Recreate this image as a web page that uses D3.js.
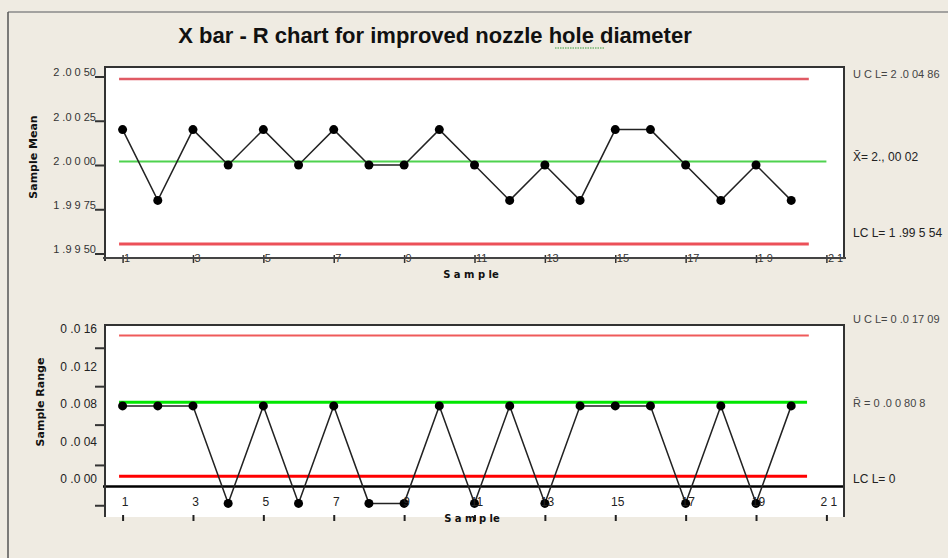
<!DOCTYPE html>
<html>
<head>
<meta charset="utf-8">
<script src="https://cdn.jsdelivr.net/npm/d3@7"></script>
<style>
  body { margin: 0; background: #efebe2; }
  svg { display: block; }
</style>
</head>
<body>
<div id="chart"></div>
<script>
// samples and values
const samples = [1, 2, 3, 4, 5, 6, 7, 8, 9, 10, 11, 12, 13, 14, 15, 16, 17, 18, 19, 20];
const sampleMeans = [2.002, 1.998, 2.002, 2.000, 2.002, 2.000, 2.002, 2.000, 2.000, 2.002,
                     2.000, 1.998, 2.000, 1.998, 2.002, 2.002, 2.000, 1.998, 2.000, 1.998];
const sampleRanges = [0.0078, 0.0078, 0.0078, -0.0026, 0.0078, -0.0026, 0.0078, -0.0026, -0.0026, 0.0078,
                      -0.0026, 0.0078, -0.0026, 0.0078, 0.0078, 0.0078, -0.0026, 0.0078, -0.0026, 0.0078];

const sampleTicks = [1, 3, 5, 7, 9, 11, 13, 15, 17, 19, 21];
const topSampleLabels = ["1", "3", "5", "7", "9", "11", "13", "15", "17", "1 9", "2 1"];
const bottomSampleLabels = ["1", "3", "5", "7", "9", "11", "13", "15", "17", "19", "2 1"];

const meanTicks = [2.005, 2.0025, 2.000, 1.9975, 1.995];
const meanTickLabels = ["2 .0 0 50", "2 .0 0 25", "2 .0 0 00", "1 .9 9 75", "1 .9 9 50"];

const rangeTicks = [0.016, 0.012, 0.008, 0.004, 0];
const rangeTickLabels = ["0 .0 16", "0 .0 12", "0 .0 08", "0 .0 04", "0 .0 00"];
const rangeTickMarks = [0.014, 0.0099, 0.0058, 0.0015, -0.0028];

const meanLimits = [2.00486, 2.0002, 1.99554];
const meanLimitLabels = ["U C L= 2 .0 04 86", "X\u0304= 2., 00 02", "LC L= 1 .99 5 54"];

const rangeLimits = [0.01709, 0.00808, 0];
const rangeLimitLabels = ["U C L= 0 .0 17 09", "R\u0304 = 0 .0 0 80 8", "LC L= 0"];
// where the range limit lines actually sit against the axis
const rangeLinesDrawn = [0.0153, 0.0082, 0.0003];
const rangeBaseline = -0.0008;

const W = 948, H = 558;
const left = 105, right = 844;
const top1 = 67, bottom1 = 258;
const top2 = 325, bottom2 = 517;
const tickFont = "'Liberation Sans', Arial, sans-serif";
const boldFont = "'DejaVu Sans', Verdana, sans-serif";

const svg = d3.select("#chart").append("svg")
    .attr("width", W)
    .attr("height", H);

svg.append("rect").attr("width", W).attr("height", H).attr("fill", "#efebe2");

// outer frame
svg.append("line").attr("x1", 8).attr("x2", W).attr("y1", 12).attr("y2", 12)
    .attr("stroke", "#8a8a8a").attr("stroke-width", 1.5);
svg.append("line").attr("x1", 8).attr("x2", 8).attr("y1", 12).attr("y2", H)
    .attr("stroke", "#555").attr("stroke-width", 1.5);

// title
svg.append("text")
    .attr("x", 435)
    .attr("y", 43)
    .attr("text-anchor", "middle")
    .style("font-family", "'Liberation Sans', Arial, sans-serif")
    .style("font-weight", "bold")
    .style("font-size", "22px")
    .attr("fill", "#111")
    .text("X bar - R chart for improved nozzle hole diameter");
svg.append("line").attr("x1", 555).attr("x2", 604).attr("y1", 48).attr("y2", 48)
    .attr("stroke", "#3a9a3a").attr("stroke-width", 1.2).attr("stroke-dasharray", "1.5,1");

const x = d3.scaleLinear().domain([0.5, 21.5]).range([left, right]);

// ---------- X bar panel ----------
const yM = d3.scaleLinear().domain([1.995, 2.005]).range([253.5, 76.5]);

svg.append("rect")
    .attr("x", left).attr("y", top1)
    .attr("width", right - left).attr("height", bottom1 - top1)
    .attr("fill", "#fff");

const gM = svg.append("g");

// limit lines
gM.append("line")
    .attr("x1", x(0.9)).attr("x2", x(20.5))
    .attr("y1", yM(meanLimits[0])).attr("y2", yM(meanLimits[0]))
    .attr("stroke", "#e05a64").attr("stroke-width", 2.5);
gM.append("line")
    .attr("x1", x(0.9)).attr("x2", x(21))
    .attr("y1", yM(meanLimits[1])).attr("y2", yM(meanLimits[1]))
    .attr("stroke", "#4fd24f").attr("stroke-width", 2);
gM.append("line")
    .attr("x1", x(0.9)).attr("x2", x(20.5))
    .attr("y1", yM(meanLimits[2])).attr("y2", yM(meanLimits[2]))
    .attr("stroke", "#ec5058").attr("stroke-width", 3);

// series
gM.append("path")
    .datum(samples)
    .attr("fill", "none")
    .attr("stroke", "#222")
    .attr("stroke-width", 1.5)
    .attr("d", d3.line().x(d => x(d)).y((d, i) => yM(sampleMeans[i])));
gM.selectAll("circle")
    .data(samples)
    .join("circle")
    .attr("cx", d => x(d))
    .attr("cy", (d, i) => yM(sampleMeans[i]))
    .attr("r", 4.5)
    .attr("fill", "#000");

// y axis
const axM = svg.append("g")
    .attr("transform", `translate(${left},0)`)
    .call(d3.axisLeft(yM).tickValues(meanTicks).tickSize(10).tickFormat((d, i) => meanTickLabels[i]));
axM.select(".domain").remove();
axM.selectAll("line").attr("stroke", "#333").attr("stroke-width", 2);
axM.selectAll("text")
    .attr("x", -9).attr("dy", "-0.05em")
    .style("font-family", tickFont).style("font-size", "11px").attr("fill", "#333");

// x axis
const axMx = svg.append("g")
    .attr("transform", `translate(0,${bottom1})`)
    .call(d3.axisBottom(x).tickValues(sampleTicks).tickSize(6).tickFormat((d, i) => topSampleLabels[i]));
axMx.select(".domain").remove();
axMx.selectAll("line").attr("y1", -3).attr("y2", 5).attr("stroke", "#333").attr("stroke-width", 1.5);
axMx.selectAll("text")
    .attr("y", 0).attr("dy", "0.35em").attr("x", 1).attr("text-anchor", "start")
    .style("font-family", tickFont).style("font-size", "11px").attr("fill", "#333");

// frame lines
svg.append("path")
    .attr("d", `M${left},${bottom1 + 3}V${top1}H${right}V${bottom1}`)
    .attr("fill", "none").attr("stroke", "#333").attr("stroke-width", 2);
svg.append("line")
    .attr("x1", left - 2).attr("x2", right + 2).attr("y1", bottom1).attr("y2", bottom1)
    .attr("stroke", "#444").attr("stroke-width", 2);

svg.append("text")
    .attr("transform", `translate(37,${(yM(2.005) + yM(1.995)) / 2 - 8}) rotate(-90)`)
    .attr("text-anchor", "middle")
    .style("font-family", boldFont).style("font-weight", "bold").style("font-size", "11px")
    .attr("fill", "#111")
    .text("Sample  Mean");

svg.append("text")
    .attr("x", 471).attr("y", 278)
    .attr("text-anchor", "middle")
    .style("font-family", boldFont).style("font-weight", "bold").style("font-size", "10px")
    .attr("fill", "#111")
    .text("S a m p le");

// limit labels
const meanLabelShift = [-5, -5, -11];
svg.selectAll(".mlab")
    .data(meanLimits)
    .join("text")
    .attr("class", "mlab")
    .attr("x", 853)
    .attr("y", (d, i) => yM(d) + meanLabelShift[i])
    .attr("dy", "0.35em")
    .style("font-family", tickFont)
    .style("font-size", (d, i) => i === 0 ? "11px" : "12px")
    .attr("fill", (d, i) => i === 0 ? "#444" : "#222")
    .text((d, i) => meanLimitLabels[i]);

// ---------- R panel ----------
const yR = d3.scaleLinear().domain([0, 0.016]).range([479, 329]);

svg.append("rect")
    .attr("x", left).attr("y", top2)
    .attr("width", right - left).attr("height", bottom2 - top2)
    .attr("fill", "#fff");

const gR = svg.append("g");

gR.append("line")
    .attr("x1", left - 2).attr("x2", right)
    .attr("y1", yR(rangeBaseline)).attr("y2", yR(rangeBaseline))
    .attr("stroke", "#000").attr("stroke-width", 2.5);
gR.append("line")
    .attr("x1", x(0.9)).attr("x2", x(20.5))
    .attr("y1", yR(rangeLinesDrawn[0])).attr("y2", yR(rangeLinesDrawn[0]))
    .attr("stroke", "#ef5a5a").attr("stroke-width", 2);
gR.append("line")
    .attr("x1", x(0.9)).attr("x2", x(20.45))
    .attr("y1", yR(rangeLinesDrawn[1])).attr("y2", yR(rangeLinesDrawn[1]))
    .attr("stroke", "#00e600").attr("stroke-width", 3);
gR.append("line")
    .attr("x1", x(0.9)).attr("x2", x(20.45))
    .attr("y1", yR(rangeLinesDrawn[2])).attr("y2", yR(rangeLinesDrawn[2]))
    .attr("stroke", "#ff0000").attr("stroke-width", 3);

gR.append("path")
    .datum(samples)
    .attr("fill", "none")
    .attr("stroke", "#222")
    .attr("stroke-width", 1.5)
    .attr("d", d3.line().x(d => x(d)).y((d, i) => yR(sampleRanges[i])));
gR.selectAll("circle")
    .data(samples)
    .join("circle")
    .attr("cx", d => x(d))
    .attr("cy", (d, i) => yR(sampleRanges[i]))
    .attr("r", 4.5)
    .attr("fill", "#000");

// y axis: labels and tick marks sit at different heights in the original
const axRl = svg.append("g")
    .attr("transform", `translate(${left},0)`)
    .call(d3.axisLeft(yR).tickValues(rangeTicks).tickSize(0).tickFormat((d, i) => rangeTickLabels[i]));
axRl.select(".domain").remove();
axRl.selectAll("text")
    .attr("x", -8)
    .style("font-family", tickFont).style("font-size", "12px").attr("fill", "#222");

const axRm = svg.append("g")
    .attr("transform", `translate(${left},0)`)
    .call(d3.axisLeft(yR).tickValues(rangeTickMarks).tickSize(10).tickFormat(""));
axRm.select(".domain").remove();
axRm.selectAll("line").attr("stroke", "#333").attr("stroke-width", 2);

// x axis
const axRx = svg.append("g")
    .attr("transform", `translate(0,${bottom2})`)
    .call(d3.axisBottom(x).tickValues(sampleTicks).tickSize(4).tickFormat((d, i) => bottomSampleLabels[i]));
axRx.select(".domain").remove();
axRx.selectAll("line").attr("y1", -2).attr("y2", 4).attr("stroke", "#222").attr("stroke-width", 2);
axRx.selectAll("text")
    .attr("y", -15).attr("dy", "0.35em").attr("x", 2)
    .style("font-family", tickFont).style("font-size", "12px").attr("fill", "#222");

svg.append("path")
    .attr("d", `M${left},${bottom2}V${top2}H${right}V${bottom2}`)
    .attr("fill", "none").attr("stroke", "#333").attr("stroke-width", 2);

svg.append("text")
    .attr("transform", `translate(44,${(yR(0.016) + yR(0)) / 2 - 2}) rotate(-90)`)
    .attr("text-anchor", "middle")
    .style("font-family", boldFont).style("font-weight", "bold").style("font-size", "11px")
    .attr("fill", "#111")
    .text("Sample  Range");

svg.append("text")
    .attr("x", 472).attr("y", 522)
    .attr("text-anchor", "middle")
    .style("font-family", boldFont).style("font-weight", "bold").style("font-size", "10px")
    .attr("fill", "#111")
    .text("S a m p le");

svg.selectAll(".rlab")
    .data(rangeLimits)
    .join("text")
    .attr("class", "rlab")
    .attr("x", 853)
    .attr("y", d => yR(d))
    .attr("dy", "0.35em")
    .style("font-family", tickFont)
    .style("font-size", (d, i) => i === 2 ? "12px" : "11px")
    .attr("fill", (d, i) => i === 2 ? "#222" : "#444")
    .text((d, i) => rangeLimitLabels[i]);
</script>
</body>
</html>
